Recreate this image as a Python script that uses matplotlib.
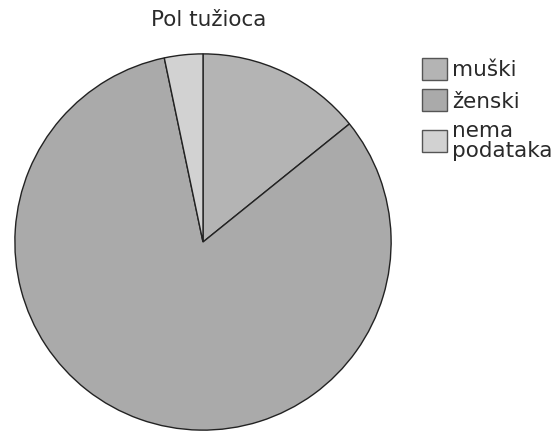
import matplotlib
matplotlib.use("Agg")
import matplotlib.pyplot as plt

labels = ["muški", "ženski", "nema\npodataka"]
values = [14.2, 82.5, 3.3]
colors = ["#b4b4b4", "#aaaaaa", "#d2d2d2"]

fig = plt.figure(figsize=(5.55, 4.32), dpi=100)
W, H = 555, 432
cx, cy, r = 203, 242, 190
ax = fig.add_axes([(cx - r) / W, (H - cy - r) / H, 2 * r / W, 2 * r / H])
wedges, _ = ax.pie(values, colors=colors, startangle=90, counterclock=False,
                   radius=1.0, wedgeprops=dict(edgecolor="#222222", linewidth=1.0))
ax.set_xlim(-1.01, 1.01)
ax.set_ylim(-1.01, 1.01)
ax.set_aspect("equal")
ax.axis("off")

fig.text(209 / W, 1 - 20 / H, "Pol tužioca", ha="center", va="center",
         fontsize=15.5, color="#2a2a2a", family="DejaVu Sans")

leg = fig.legend(wedges, labels, loc="upper left", bbox_to_anchor=(422 / W, 1 - 58 / H),
                 frameon=False, fontsize=15.5, handlelength=1.15, handleheight=1.2,
                 handletextpad=0.25, labelspacing=0.42, borderpad=0, borderaxespad=0)
for h in leg.legend_handles:
    h.set_edgecolor("#555555")
    h.set_linewidth(1.0)
for t in leg.get_texts():
    t.set_color("#2a2a2a")
    t.set_linespacing(1.0)

fig.savefig("out.png", dpi=100)
